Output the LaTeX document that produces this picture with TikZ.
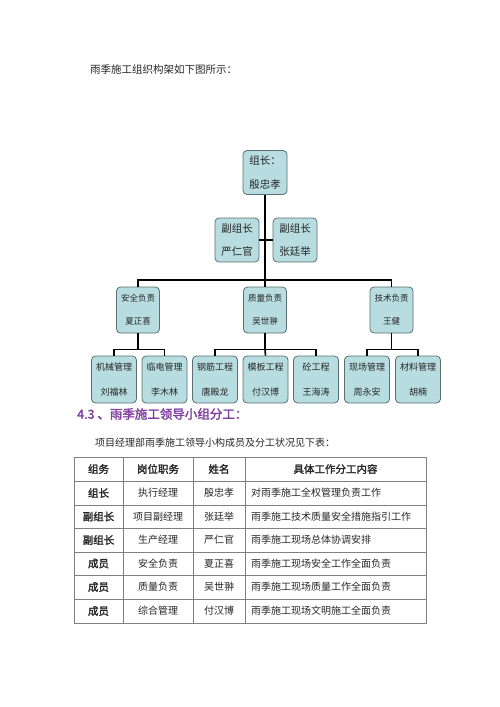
\documentclass[tikz,border=0pt]{standalone}
\usepackage{fontspec}
\usepackage{xcolor}
\newfontfamily\cjk{Noto Sans CJK SC}
\newfontfamily\cjkbold{Noto Sans CJK SC}[FakeBold=2]

\definecolor{boxfill}{RGB}{183,221,224}
\definecolor{boxline}{RGB}{90,110,116}
\definecolor{titlepurple}{RGB}{128,62,160}
\definecolor{gridline}{RGB}{128,128,128}

\begin{document}
\begin{tikzpicture}[x=1pt, y=-1pt,
	every node/.style = {font=\cjk, inner sep=0pt, text=black!85},
	org/.style = {draw=boxline, fill=boxfill, rounded corners=4pt, align=center, line width=0.8pt},
	bigbox/.style = {org, minimum width=44pt, minimum height=44pt, font=\cjk\fontsize{10.5}{23.5}\selectfont},
	midbox/.style = {org, minimum width=43pt, minimum height=46pt, font=\cjk\fontsize{8.5}{23}\selectfont},
	smallbox/.style = {org, minimum width=45pt, minimum height=47pt, font=\cjk\fontsize{9}{25}\selectfont},
	link/.style = {draw=black, line width=1.6pt},
	cell/.style = {font=\cjk\fontsize{10}{12}\selectfont},
	headcell/.style = {font=\cjkbold\fontsize{10.5}{12}\selectfont}
	]
	\useasboundingbox (0,0) rectangle (500,707);

	% text above the chart
	\node[anchor=west, font=\cjk\fontsize{10.5}{12}\selectfont] (intro) at (90,70) {雨季施工组织构架如下图所示：};

	% chart
	\node[bigbox] (leader) at (265,172.5) {组长：\\殷忠孝};
	\node[bigbox] (deputyA) at (237,240) {副组长\\严仁官};
	\node[bigbox] (deputyB) at (295,240) {副组长\\张廷举};

	\node[midbox] (safety) at (138,310) {安全负责\\夏正喜};
	\node[midbox] (quality) at (265,310) {质量负责\\吴世翀};
	\node[midbox] (tech) at (391.5,310) {技术负责\\王健};

	\node[smallbox] (machine) at (114,379.5) {机械管理\\刘福林};
	\node[smallbox] (power) at (164.5,379.5) {临电管理\\李木林};
	\node[smallbox] (rebar) at (215,379.5) {钢筋工程\\唐殿龙};
	\node[smallbox] (formwork) at (265.5,379.5) {模板工程\\付汉博};
	\node[smallbox] (concrete) at (316,379.5) {砼工程\\王海涛};
	\node[smallbox] (site) at (367,379.5) {现场管理\\周永安};
	\node[smallbox] (material) at (418,379.5) {材料管理\\胡楠};

	\coordinate (bus) at (265,280);
	\draw[link] (leader.south) -- (quality.north);
	\draw[link] (deputyA.east) -- (deputyB.west);
	\draw[link] (safety.north) |- (bus) -| (tech.north);

	\draw[link] (safety.south) -- ++(0,16) coordinate (busA);
	\draw[link] (machine.north) |- (busA) -| (power.north);
	\draw[link] (quality.south) -- ++(0,16) coordinate (busB);
	\draw[link] (rebar.north) |- (busB) -| (concrete.north);
	\draw[link] (formwork.north) -- (busB);
	\draw[link] (tech.south) -- ++(0,16) coordinate (busC);
	\draw[link] (site.north) |- (busC) -| (material.north);

	% section heading
	\node[anchor=west, font=\cjkbold\fontsize{12.5}{15}\selectfont, text=titlepurple] (heading) at (77,414) {4.3 、雨季施工领导小组分工：};
	\node[anchor=west, font=\cjk\fontsize{10}{12}\selectfont] (note) at (95,443) {项目经理部雨季施工领导小构成员及分工状况见下表：};

	% table
	\draw[gridline, line width=0.8pt] (74,457) rectangle (426,623);
	\foreach \y in {481,505,528,552,575,599}
		\draw[gridline, line width=0.6pt] (74,\y) -- (426,\y);
	\foreach \x in {123,193,245}
		\draw[gridline, line width=0.6pt] (\x,457) -- (\x,623);

	\node[headcell] (h1) at (98.5,469) {组务};
	\node[headcell] (h2) at (158,469) {岗位职务};
	\node[headcell] (h3) at (219,469) {姓名};
	\node[headcell] (h4) at (335.5,469) {具体工作分工内容};

	\foreach \i/\y/\grp/\post/\who/\task in {
		1/493/组长/执行经理/殷忠孝/对雨季施工全权管理负责工作,
		2/516.5/副组长/项目副经理/张廷举/雨季施工技术质量安全措施指引工作,
		3/540/副组长/生产经理/严仁官/雨季施工现场总体协调安排,
		4/563.5/成员/安全负责/夏正喜/雨季施工现场安全工作全面负责,
		5/587/成员/质量负责/吴世翀/雨季施工现场质量工作全面负责,
		6/611/成员/综合管理/付汉博/雨季施工现场文明施工全面负责}
	{
		\node[headcell] (grp\i) at (98.5,\y) {\grp};
		\node[cell] (post\i) at (158,\y) {\post};
		\node[cell] (who\i) at (219,\y) {\who};
		\node[cell, anchor=west] (task\i) at (251,\y) {\task};
	}
\end{tikzpicture}
\end{document}
